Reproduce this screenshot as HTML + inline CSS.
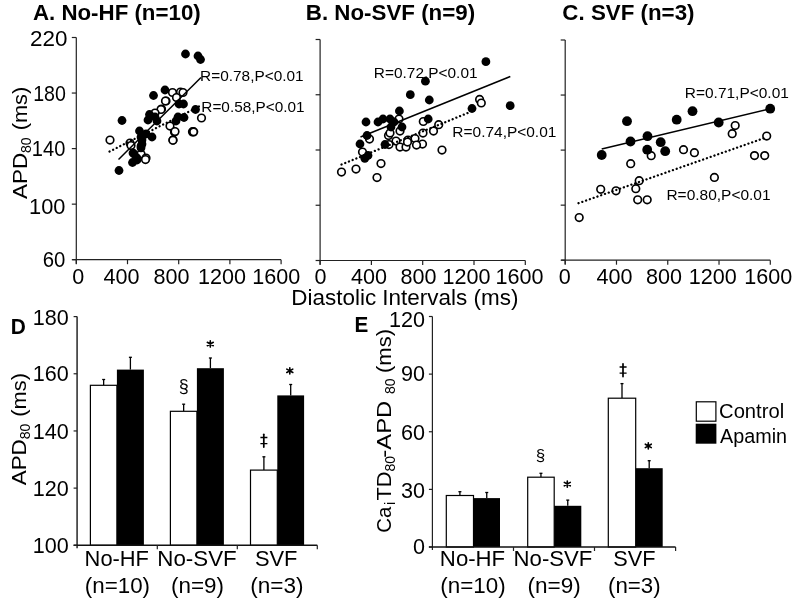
<!DOCTYPE html>
<html><head><meta charset="utf-8"><style>
html,body{margin:0;padding:0;background:#fff;}
body{width:800px;height:601px;overflow:hidden;}
svg{display:block;font-family:"Liberation Sans", sans-serif;fill:#000;will-change:transform;}
</style></head><body>
<svg width="800" height="601" viewBox="0 0 800 601">
<rect width="800" height="601" fill="#fff"/>
<text x="32.95" y="20.00" font-size="21.2" font-weight="bold" textLength="167.76" lengthAdjust="spacingAndGlyphs">A. No-HF (n=10)</text>
<text x="305.81" y="20.00" font-size="21.2" font-weight="bold" textLength="169.31" lengthAdjust="spacingAndGlyphs">B. No-SVF (n=9)</text>
<text x="562.38" y="20.00" font-size="21.2" font-weight="bold" textLength="132.13" lengthAdjust="spacingAndGlyphs">C. SVF (n=3)</text>
<line x1="76.30" y1="37.50" x2="76.30" y2="263.70" stroke="#222" stroke-width="1.2" />
<line x1="72.30" y1="259.70" x2="281.10" y2="259.70" stroke="#222" stroke-width="1.2" />
<line x1="71.80" y1="37.50" x2="76.30" y2="37.50" stroke="#222" stroke-width="1.2" />
<line x1="71.80" y1="93.05" x2="76.30" y2="93.05" stroke="#222" stroke-width="1.2" />
<line x1="71.80" y1="148.60" x2="76.30" y2="148.60" stroke="#222" stroke-width="1.2" />
<line x1="71.80" y1="204.15" x2="76.30" y2="204.15" stroke="#222" stroke-width="1.2" />
<line x1="71.80" y1="259.70" x2="76.30" y2="259.70" stroke="#222" stroke-width="1.2" />
<line x1="76.30" y1="259.70" x2="76.30" y2="264.20" stroke="#222" stroke-width="1.2" />
<line x1="127.50" y1="259.70" x2="127.50" y2="264.20" stroke="#222" stroke-width="1.2" />
<line x1="178.70" y1="259.70" x2="178.70" y2="264.20" stroke="#222" stroke-width="1.2" />
<line x1="229.90" y1="259.70" x2="229.90" y2="264.20" stroke="#222" stroke-width="1.2" />
<line x1="281.10" y1="259.70" x2="281.10" y2="264.20" stroke="#222" stroke-width="1.2" />
<line x1="320.10" y1="39.50" x2="320.10" y2="264.50" stroke="#222" stroke-width="1.2" />
<line x1="316.10" y1="260.50" x2="525.30" y2="260.50" stroke="#222" stroke-width="1.2" />
<line x1="315.60" y1="39.50" x2="320.10" y2="39.50" stroke="#222" stroke-width="1.2" />
<line x1="315.60" y1="94.75" x2="320.10" y2="94.75" stroke="#222" stroke-width="1.2" />
<line x1="315.60" y1="150.00" x2="320.10" y2="150.00" stroke="#222" stroke-width="1.2" />
<line x1="315.60" y1="205.25" x2="320.10" y2="205.25" stroke="#222" stroke-width="1.2" />
<line x1="315.60" y1="260.50" x2="320.10" y2="260.50" stroke="#222" stroke-width="1.2" />
<line x1="320.10" y1="260.50" x2="320.10" y2="265.00" stroke="#222" stroke-width="1.2" />
<line x1="371.40" y1="260.50" x2="371.40" y2="265.00" stroke="#222" stroke-width="1.2" />
<line x1="422.70" y1="260.50" x2="422.70" y2="265.00" stroke="#222" stroke-width="1.2" />
<line x1="474.00" y1="260.50" x2="474.00" y2="265.00" stroke="#222" stroke-width="1.2" />
<line x1="525.30" y1="260.50" x2="525.30" y2="265.00" stroke="#222" stroke-width="1.2" />
<line x1="565.20" y1="40.00" x2="565.20" y2="264.20" stroke="#222" stroke-width="1.2" />
<line x1="561.20" y1="260.20" x2="770.30" y2="260.20" stroke="#222" stroke-width="1.2" />
<line x1="560.70" y1="40.00" x2="565.20" y2="40.00" stroke="#222" stroke-width="1.2" />
<line x1="560.70" y1="95.05" x2="565.20" y2="95.05" stroke="#222" stroke-width="1.2" />
<line x1="560.70" y1="150.10" x2="565.20" y2="150.10" stroke="#222" stroke-width="1.2" />
<line x1="560.70" y1="205.15" x2="565.20" y2="205.15" stroke="#222" stroke-width="1.2" />
<line x1="560.70" y1="260.20" x2="565.20" y2="260.20" stroke="#222" stroke-width="1.2" />
<line x1="565.20" y1="260.20" x2="565.20" y2="264.70" stroke="#222" stroke-width="1.2" />
<line x1="616.48" y1="260.20" x2="616.48" y2="264.70" stroke="#222" stroke-width="1.2" />
<line x1="667.75" y1="260.20" x2="667.75" y2="264.70" stroke="#222" stroke-width="1.2" />
<line x1="719.02" y1="260.20" x2="719.02" y2="264.70" stroke="#222" stroke-width="1.2" />
<line x1="770.30" y1="260.20" x2="770.30" y2="264.70" stroke="#222" stroke-width="1.2" />
<text x="30.07" y="45.70" font-size="21.8" textLength="37.40" lengthAdjust="spacingAndGlyphs">220</text>
<text x="33.20" y="100.80" font-size="21.8" textLength="32.76" lengthAdjust="spacingAndGlyphs">180</text>
<text x="31.87" y="156.10" font-size="21.8" textLength="33.51" lengthAdjust="spacingAndGlyphs">140</text>
<text x="29.04" y="213.50" font-size="21.8" textLength="36.42" lengthAdjust="spacingAndGlyphs">100</text>
<text x="42.77" y="267.40" font-size="21.8" textLength="22.63" lengthAdjust="spacingAndGlyphs">60</text>
<text x="72.30" y="284.10" font-size="21.8" textLength="12.00" lengthAdjust="spacingAndGlyphs">0</text>
<text x="103.42" y="284.10" font-size="21.8" textLength="36.01" lengthAdjust="spacingAndGlyphs">400</text>
<text x="153.55" y="284.10" font-size="21.8" textLength="36.01" lengthAdjust="spacingAndGlyphs">800</text>
<text x="198.09" y="284.10" font-size="21.8" textLength="48.01" lengthAdjust="spacingAndGlyphs">1200</text>
<text x="252.29" y="284.10" font-size="21.8" textLength="48.01" lengthAdjust="spacingAndGlyphs">1600</text>
<text x="314.50" y="284.10" font-size="21.8" textLength="12.00" lengthAdjust="spacingAndGlyphs">0</text>
<text x="351.07" y="284.10" font-size="21.8" textLength="36.01" lengthAdjust="spacingAndGlyphs">400</text>
<text x="400.45" y="284.10" font-size="21.8" textLength="36.01" lengthAdjust="spacingAndGlyphs">800</text>
<text x="442.49" y="284.10" font-size="21.8" textLength="48.01" lengthAdjust="spacingAndGlyphs">1200</text>
<text x="495.59" y="284.10" font-size="21.8" textLength="48.01" lengthAdjust="spacingAndGlyphs">1600</text>
<text x="558.80" y="284.10" font-size="21.8" textLength="12.00" lengthAdjust="spacingAndGlyphs">0</text>
<text x="596.57" y="284.10" font-size="21.8" textLength="36.01" lengthAdjust="spacingAndGlyphs">400</text>
<text x="645.95" y="284.10" font-size="21.8" textLength="36.01" lengthAdjust="spacingAndGlyphs">800</text>
<text x="688.69" y="284.10" font-size="21.8" textLength="48.01" lengthAdjust="spacingAndGlyphs">1200</text>
<text x="744.34" y="284.10" font-size="21.8" textLength="48.01" lengthAdjust="spacingAndGlyphs">1600</text>
<text x="291.26" y="304.50" font-size="21.3" textLength="227.14" lengthAdjust="spacingAndGlyphs">Diastolic Intervals (ms)</text>
<g transform="translate(27.2,600) rotate(-90)"><text x="400.96" y="0.00" font-size="20.8" textLength="46.19" lengthAdjust="spacingAndGlyphs">APD</text><text x="447.09" y="4.00" font-size="14" textLength="15.57" lengthAdjust="spacingAndGlyphs">80</text><text x="469.65" y="0.00" font-size="20.8" textLength="43.66" lengthAdjust="spacingAndGlyphs">(ms)</text></g>
<circle cx="110" cy="140" r="3.8" fill="#fff" stroke="#000" stroke-width="1.65"/>
<circle cx="130" cy="143" r="3.8" fill="#fff" stroke="#000" stroke-width="1.65"/>
<circle cx="131" cy="145.5" r="3.8" fill="#fff" stroke="#000" stroke-width="1.65"/>
<circle cx="141" cy="154" r="3.8" fill="#fff" stroke="#000" stroke-width="1.65"/>
<circle cx="146" cy="158" r="3.8" fill="#fff" stroke="#000" stroke-width="1.65"/>
<circle cx="145.5" cy="159.5" r="3.8" fill="#fff" stroke="#000" stroke-width="1.65"/>
<circle cx="161.5" cy="109" r="3.8" fill="#fff" stroke="#000" stroke-width="1.65"/>
<circle cx="166" cy="101" r="3.8" fill="#fff" stroke="#000" stroke-width="1.65"/>
<circle cx="173" cy="140" r="3.8" fill="#fff" stroke="#000" stroke-width="1.65"/>
<circle cx="174.5" cy="132" r="3.8" fill="#fff" stroke="#000" stroke-width="1.65"/>
<circle cx="172.5" cy="92.5" r="3.8" fill="#fff" stroke="#000" stroke-width="1.65"/>
<circle cx="180.5" cy="92" r="3.8" fill="#fff" stroke="#000" stroke-width="1.65"/>
<circle cx="183" cy="92.5" r="3.8" fill="#fff" stroke="#000" stroke-width="1.65"/>
<circle cx="165.5" cy="101" r="3.8" fill="#fff" stroke="#000" stroke-width="1.65"/>
<circle cx="176.5" cy="97.5" r="3.8" fill="#fff" stroke="#000" stroke-width="1.65"/>
<circle cx="201.5" cy="118" r="3.8" fill="#fff" stroke="#000" stroke-width="1.65"/>
<circle cx="161" cy="109.5" r="3.8" fill="#fff" stroke="#000" stroke-width="1.65"/>
<circle cx="155" cy="113" r="3.8" fill="#fff" stroke="#000" stroke-width="1.65"/>
<circle cx="170" cy="126" r="3.8" fill="#fff" stroke="#000" stroke-width="1.65"/>
<circle cx="175" cy="131.5" r="3.8" fill="#fff" stroke="#000" stroke-width="1.65"/>
<circle cx="172.9" cy="140.2" r="3.8" fill="#fff" stroke="#000" stroke-width="1.65"/>
<circle cx="192.6" cy="131.8" r="3.8" fill="#fff" stroke="#000" stroke-width="1.9"/>
<circle cx="193.6" cy="131.8" r="3.8" fill="#fff" stroke="#000" stroke-width="1.9"/>
<circle cx="185.5" cy="54" r="4.4" fill="#000"/>
<circle cx="198" cy="56" r="4.4" fill="#000"/>
<circle cx="200.5" cy="59.5" r="4.4" fill="#000"/>
<circle cx="165" cy="90" r="4.4" fill="#000"/>
<circle cx="153.5" cy="95.5" r="4.4" fill="#000"/>
<circle cx="179" cy="104" r="4.4" fill="#000"/>
<circle cx="183.5" cy="104" r="4.4" fill="#000"/>
<circle cx="195.5" cy="109.5" r="4.4" fill="#000"/>
<circle cx="149.5" cy="114.5" r="4.4" fill="#000"/>
<circle cx="148" cy="120" r="4.4" fill="#000"/>
<circle cx="155" cy="117" r="4.4" fill="#000"/>
<circle cx="157" cy="121" r="4.4" fill="#000"/>
<circle cx="178" cy="117" r="4.4" fill="#000"/>
<circle cx="184" cy="117.5" r="4.4" fill="#000"/>
<circle cx="176" cy="121" r="4.4" fill="#000"/>
<circle cx="122" cy="120.5" r="4.4" fill="#000"/>
<circle cx="139.5" cy="131" r="4.4" fill="#000"/>
<circle cx="146" cy="134" r="4.4" fill="#000"/>
<circle cx="152" cy="137" r="4.4" fill="#000"/>
<circle cx="142" cy="140" r="4.4" fill="#000"/>
<circle cx="141" cy="146" r="4.4" fill="#000"/>
<circle cx="142" cy="144" r="4.4" fill="#000"/>
<circle cx="133" cy="153" r="4.4" fill="#000"/>
<circle cx="137" cy="158" r="4.4" fill="#000"/>
<circle cx="134" cy="154" r="4.4" fill="#000"/>
<circle cx="132.5" cy="162.5" r="4.4" fill="#000"/>
<circle cx="137" cy="160" r="4.4" fill="#000"/>
<circle cx="119" cy="170.5" r="4.4" fill="#000"/>
<circle cx="141" cy="137" r="4.4" fill="#000"/>
<circle cx="141" cy="147.8" r="4.4" fill="#000"/>
<circle cx="479.6" cy="99.4" r="3.8" fill="#fff" stroke="#000" stroke-width="1.65"/>
<circle cx="481.3" cy="103.0" r="3.8" fill="#fff" stroke="#000" stroke-width="1.65"/>
<circle cx="423.3" cy="121.5" r="3.8" fill="#fff" stroke="#000" stroke-width="1.65"/>
<circle cx="438.7" cy="124.7" r="3.8" fill="#fff" stroke="#000" stroke-width="1.65"/>
<circle cx="399" cy="119" r="3.8" fill="#fff" stroke="#000" stroke-width="1.65"/>
<circle cx="400" cy="131" r="3.8" fill="#fff" stroke="#000" stroke-width="1.65"/>
<circle cx="388.5" cy="135.5" r="3.8" fill="#fff" stroke="#000" stroke-width="1.65"/>
<circle cx="390" cy="133" r="3.8" fill="#fff" stroke="#000" stroke-width="1.65"/>
<circle cx="369.5" cy="139" r="3.8" fill="#fff" stroke="#000" stroke-width="1.65"/>
<circle cx="389" cy="144.5" r="3.8" fill="#fff" stroke="#000" stroke-width="1.65"/>
<circle cx="396" cy="141" r="3.8" fill="#fff" stroke="#000" stroke-width="1.65"/>
<circle cx="400" cy="147" r="3.8" fill="#fff" stroke="#000" stroke-width="1.65"/>
<circle cx="406" cy="147" r="3.8" fill="#fff" stroke="#000" stroke-width="1.65"/>
<circle cx="408" cy="140" r="3.8" fill="#fff" stroke="#000" stroke-width="1.65"/>
<circle cx="362.5" cy="152" r="3.8" fill="#fff" stroke="#000" stroke-width="1.65"/>
<circle cx="341.5" cy="172" r="3.8" fill="#fff" stroke="#000" stroke-width="1.65"/>
<circle cx="356" cy="169" r="3.8" fill="#fff" stroke="#000" stroke-width="1.65"/>
<circle cx="381" cy="163.5" r="3.8" fill="#fff" stroke="#000" stroke-width="1.65"/>
<circle cx="377" cy="177.5" r="3.8" fill="#fff" stroke="#000" stroke-width="1.65"/>
<circle cx="433.5" cy="131" r="3.8" fill="#fff" stroke="#000" stroke-width="1.65"/>
<circle cx="423" cy="133" r="3.8" fill="#fff" stroke="#000" stroke-width="1.65"/>
<circle cx="422.5" cy="144" r="3.8" fill="#fff" stroke="#000" stroke-width="1.65"/>
<circle cx="415" cy="138.5" r="3.8" fill="#fff" stroke="#000" stroke-width="1.65"/>
<circle cx="416.5" cy="145" r="3.8" fill="#fff" stroke="#000" stroke-width="1.65"/>
<circle cx="407.5" cy="142" r="3.8" fill="#fff" stroke="#000" stroke-width="1.65"/>
<circle cx="442" cy="150" r="3.8" fill="#fff" stroke="#000" stroke-width="1.65"/>
<circle cx="485.9" cy="61.7" r="4.4" fill="#000"/>
<circle cx="425.4" cy="81.2" r="4.4" fill="#000"/>
<circle cx="410.3" cy="94.7" r="4.4" fill="#000"/>
<circle cx="429.3" cy="100" r="4.4" fill="#000"/>
<circle cx="472" cy="108.5" r="4.4" fill="#000"/>
<circle cx="510.2" cy="105.7" r="4.4" fill="#000"/>
<circle cx="399.4" cy="111" r="4.4" fill="#000"/>
<circle cx="428.2" cy="119" r="4.4" fill="#000"/>
<circle cx="366" cy="122" r="4.4" fill="#000"/>
<circle cx="378" cy="122" r="4.4" fill="#000"/>
<circle cx="383" cy="119" r="4.4" fill="#000"/>
<circle cx="390" cy="119" r="4.4" fill="#000"/>
<circle cx="394" cy="122" r="4.4" fill="#000"/>
<circle cx="391" cy="127" r="4.4" fill="#000"/>
<circle cx="402" cy="127" r="4.4" fill="#000"/>
<circle cx="367" cy="135.5" r="4.4" fill="#000"/>
<circle cx="360" cy="144" r="4.4" fill="#000"/>
<circle cx="385" cy="144.5" r="4.4" fill="#000"/>
<circle cx="364.8" cy="158.3" r="4.4" fill="#000"/>
<circle cx="368" cy="155.5" r="4.4" fill="#000"/>
<circle cx="651.2" cy="155.7" r="3.8" fill="#fff" stroke="#000" stroke-width="1.65"/>
<circle cx="630.7" cy="163.7" r="3.8" fill="#fff" stroke="#000" stroke-width="1.65"/>
<circle cx="683.5" cy="149.7" r="3.8" fill="#fff" stroke="#000" stroke-width="1.65"/>
<circle cx="694.4" cy="152.7" r="3.8" fill="#fff" stroke="#000" stroke-width="1.65"/>
<circle cx="735.2" cy="125.5" r="3.8" fill="#fff" stroke="#000" stroke-width="1.65"/>
<circle cx="732.2" cy="133.7" r="3.8" fill="#fff" stroke="#000" stroke-width="1.65"/>
<circle cx="766.7" cy="136" r="3.8" fill="#fff" stroke="#000" stroke-width="1.65"/>
<circle cx="754.5" cy="155.6" r="3.8" fill="#fff" stroke="#000" stroke-width="1.65"/>
<circle cx="764.7" cy="155.6" r="3.8" fill="#fff" stroke="#000" stroke-width="1.65"/>
<circle cx="714.4" cy="177.4" r="3.8" fill="#fff" stroke="#000" stroke-width="1.65"/>
<circle cx="579.2" cy="217.5" r="3.8" fill="#fff" stroke="#000" stroke-width="1.65"/>
<circle cx="600.7" cy="189.3" r="3.8" fill="#fff" stroke="#000" stroke-width="1.65"/>
<circle cx="616" cy="190.8" r="3.8" fill="#fff" stroke="#000" stroke-width="1.65"/>
<circle cx="639.2" cy="180.7" r="3.8" fill="#fff" stroke="#000" stroke-width="1.65"/>
<circle cx="635.8" cy="188.7" r="3.8" fill="#fff" stroke="#000" stroke-width="1.65"/>
<circle cx="637.7" cy="199.8" r="3.8" fill="#fff" stroke="#000" stroke-width="1.65"/>
<circle cx="647.2" cy="199.8" r="3.8" fill="#fff" stroke="#000" stroke-width="1.65"/>
<circle cx="601.7" cy="155" r="4.9" fill="#000"/>
<circle cx="627" cy="121.2" r="4.9" fill="#000"/>
<circle cx="630.5" cy="141.5" r="4.9" fill="#000"/>
<circle cx="647.5" cy="136.2" r="4.9" fill="#000"/>
<circle cx="647.2" cy="149.7" r="4.9" fill="#000"/>
<circle cx="660.7" cy="142.2" r="4.9" fill="#000"/>
<circle cx="665.2" cy="151.2" r="4.9" fill="#000"/>
<circle cx="676.7" cy="119.7" r="4.9" fill="#000"/>
<circle cx="692.5" cy="111.2" r="4.9" fill="#000"/>
<circle cx="718.7" cy="122.5" r="4.9" fill="#000"/>
<circle cx="770.2" cy="108.7" r="4.9" fill="#000"/>
<line x1="118.50" y1="159.50" x2="201.00" y2="77.50" stroke="#000" stroke-width="1.5" />
<line x1="109.50" y1="151.50" x2="200.00" y2="106.00" stroke="#000" stroke-width="2.3" stroke-dasharray="0.1 3.9" stroke-linecap="round"/>
<line x1="360.50" y1="137.00" x2="510.30" y2="76.50" stroke="#000" stroke-width="1.5" />
<line x1="341.50" y1="164.50" x2="471.00" y2="111.70" stroke="#000" stroke-width="2.3" stroke-dasharray="0.1 3.9" stroke-linecap="round"/>
<line x1="601.70" y1="149.00" x2="770.20" y2="108.70" stroke="#000" stroke-width="1.5" />
<line x1="578.50" y1="203.20" x2="766.00" y2="137.50" stroke="#000" stroke-width="2.3" stroke-dasharray="0.1 3.9" stroke-linecap="round"/>
<text x="200.14" y="80.70" font-size="15.2" textLength="103.51" lengthAdjust="spacingAndGlyphs">R=0.78,P&lt;0.01</text>
<text x="201.34" y="112.20" font-size="15.2" textLength="103.21" lengthAdjust="spacingAndGlyphs">R=0.58,P&lt;0.01</text>
<text x="373.89" y="78.00" font-size="15.2" textLength="103.67" lengthAdjust="spacingAndGlyphs">R=0.72,P&lt;0.01</text>
<text x="452.38" y="136.75" font-size="15.2" textLength="103.97" lengthAdjust="spacingAndGlyphs">R=0.74,P&lt;0.01</text>
<text x="684.83" y="98.00" font-size="15.2" textLength="104.02" lengthAdjust="spacingAndGlyphs">R=0.71,P&lt;0.01</text>
<text x="666.43" y="199.50" font-size="15.2" textLength="104.13" lengthAdjust="spacingAndGlyphs">R=0.80,P&lt;0.01</text>
<text x="10.70" y="333.80" font-size="21.6" font-weight="bold" textLength="15.07" lengthAdjust="spacingAndGlyphs">D</text>
<line x1="103.65" y1="385.30" x2="103.65" y2="379.50" stroke="#000" stroke-width="1.3" />
<line x1="102.15" y1="379.50" x2="105.15" y2="379.50" stroke="#000" stroke-width="1.3" />
<rect x="90.4" y="385.3" width="26.50" height="160.00" fill="#fff" stroke="#000" stroke-width="1.2"/>
<line x1="130.40" y1="369.60" x2="130.40" y2="357.30" stroke="#000" stroke-width="1.3" />
<line x1="128.90" y1="357.30" x2="131.90" y2="357.30" stroke="#000" stroke-width="1.3" />
<rect x="116.9" y="369.6" width="27.00" height="175.70" fill="#000"/>
<line x1="183.65" y1="411.30" x2="183.65" y2="404.20" stroke="#000" stroke-width="1.3" />
<line x1="182.15" y1="404.20" x2="185.15" y2="404.20" stroke="#000" stroke-width="1.3" />
<rect x="170.4" y="411.3" width="26.50" height="134.00" fill="#fff" stroke="#000" stroke-width="1.2"/>
<line x1="210.40" y1="368.20" x2="210.40" y2="358.00" stroke="#000" stroke-width="1.3" />
<line x1="208.90" y1="358.00" x2="211.90" y2="358.00" stroke="#000" stroke-width="1.3" />
<rect x="196.9" y="368.2" width="27.00" height="177.10" fill="#000"/>
<line x1="263.90" y1="470.10" x2="263.90" y2="456.80" stroke="#000" stroke-width="1.3" />
<line x1="262.40" y1="456.80" x2="265.40" y2="456.80" stroke="#000" stroke-width="1.3" />
<rect x="250.5" y="470.1" width="26.80" height="75.20" fill="#fff" stroke="#000" stroke-width="1.2"/>
<line x1="290.70" y1="395.40" x2="290.70" y2="384.50" stroke="#000" stroke-width="1.3" />
<line x1="289.20" y1="384.50" x2="292.20" y2="384.50" stroke="#000" stroke-width="1.3" />
<rect x="277.3" y="395.4" width="26.80" height="149.90" fill="#000"/>
<line x1="77.10" y1="316.60" x2="77.10" y2="548.30" stroke="#4a4a4a" stroke-width="1.8" />
<line x1="73.60" y1="545.30" x2="317.30" y2="545.30" stroke="#111" stroke-width="1.4" />
<line x1="73.60" y1="316.60" x2="77.10" y2="316.60" stroke="#222" stroke-width="1.2" />
<line x1="73.60" y1="373.77" x2="77.10" y2="373.77" stroke="#222" stroke-width="1.2" />
<line x1="73.60" y1="430.95" x2="77.10" y2="430.95" stroke="#222" stroke-width="1.2" />
<line x1="73.60" y1="488.12" x2="77.10" y2="488.12" stroke="#222" stroke-width="1.2" />
<line x1="73.60" y1="545.30" x2="77.10" y2="545.30" stroke="#222" stroke-width="1.2" />
<line x1="157.30" y1="545.30" x2="157.30" y2="549.30" stroke="#222" stroke-width="1.2" />
<line x1="237.30" y1="545.30" x2="237.30" y2="549.30" stroke="#222" stroke-width="1.2" />
<line x1="317.30" y1="545.30" x2="317.30" y2="549.30" stroke="#222" stroke-width="1.2" />
<text x="32.73" y="325.10" font-size="21.8" textLength="36.01" lengthAdjust="spacingAndGlyphs">180</text>
<text x="32.73" y="380.80" font-size="21.8" textLength="36.01" lengthAdjust="spacingAndGlyphs">160</text>
<text x="32.73" y="438.80" font-size="21.8" textLength="36.01" lengthAdjust="spacingAndGlyphs">140</text>
<text x="32.73" y="496.20" font-size="21.8" textLength="36.01" lengthAdjust="spacingAndGlyphs">120</text>
<text x="32.73" y="552.80" font-size="21.8" textLength="36.01" lengthAdjust="spacingAndGlyphs">100</text>
<g transform="translate(25.6,600) rotate(-90)"><text x="114.66" y="0.00" font-size="20.8" textLength="46.19" lengthAdjust="spacingAndGlyphs">APD</text><text x="160.79" y="4.00" font-size="14" textLength="15.57" lengthAdjust="spacingAndGlyphs">80</text><text x="183.35" y="0.00" font-size="20.8" textLength="43.66" lengthAdjust="spacingAndGlyphs">(ms)</text></g>
<text x="84.61" y="566.00" font-size="21.3" textLength="64.37" lengthAdjust="spacingAndGlyphs">No-HF</text>
<text x="84.82" y="592.70" font-size="21.3" textLength="65.17" lengthAdjust="spacingAndGlyphs">(n=10)</text>
<text x="157.32" y="565.50" font-size="21.3" textLength="79.43" lengthAdjust="spacingAndGlyphs">No-SVF</text>
<text x="171.01" y="592.70" font-size="21.3" textLength="52.98" lengthAdjust="spacingAndGlyphs">(n=9)</text>
<text x="254.91" y="565.50" font-size="21.3" textLength="42.57" lengthAdjust="spacingAndGlyphs">SVF</text>
<text x="250.25" y="592.70" font-size="21.3" textLength="53.25" lengthAdjust="spacingAndGlyphs">(n=3)</text>
<text x="178.69" y="392.00" font-size="18" textLength="10.01" lengthAdjust="spacingAndGlyphs">§</text>
<path d="M210.30,340.90V347.10M207.30,342.30L213.30,345.70M207.30,345.70L213.30,342.30" stroke="#000" stroke-width="1.6" stroke-linecap="round" fill="none"/>
<path d="M263.80,434.30V447.10" stroke="#000" stroke-width="1.7" stroke-linecap="round" fill="none"/>
<path d="M260.40,437.50H267.40M260.40,443.60H267.40" stroke="#000" stroke-width="1.4" fill="none"/>
<path d="M289.80,367.70V373.90M286.80,369.10L292.80,372.50M286.80,372.50L292.80,369.10" stroke="#000" stroke-width="1.6" stroke-linecap="round" fill="none"/>
<text x="354.62" y="331.50" font-size="21.6" font-weight="bold" textLength="13.79" lengthAdjust="spacingAndGlyphs">E</text>
<line x1="459.90" y1="495.50" x2="459.90" y2="491.70" stroke="#000" stroke-width="1.3" />
<line x1="458.40" y1="491.70" x2="461.40" y2="491.70" stroke="#000" stroke-width="1.3" />
<rect x="446.3" y="495.5" width="27.20" height="51.50" fill="#fff" stroke="#000" stroke-width="1.2"/>
<line x1="486.75" y1="498.10" x2="486.75" y2="492.50" stroke="#000" stroke-width="1.3" />
<line x1="485.25" y1="492.50" x2="488.25" y2="492.50" stroke="#000" stroke-width="1.3" />
<rect x="473.5" y="498.1" width="26.50" height="48.90" fill="#000"/>
<line x1="540.95" y1="477.20" x2="540.95" y2="473.30" stroke="#000" stroke-width="1.3" />
<line x1="539.45" y1="473.30" x2="542.45" y2="473.30" stroke="#000" stroke-width="1.3" />
<rect x="527.7" y="477.2" width="26.50" height="69.80" fill="#fff" stroke="#000" stroke-width="1.2"/>
<line x1="567.75" y1="505.80" x2="567.75" y2="500.10" stroke="#000" stroke-width="1.3" />
<line x1="566.25" y1="500.10" x2="569.25" y2="500.10" stroke="#000" stroke-width="1.3" />
<rect x="554.2" y="505.8" width="27.10" height="41.20" fill="#000"/>
<line x1="622.00" y1="398.20" x2="622.00" y2="383.60" stroke="#000" stroke-width="1.3" />
<line x1="620.50" y1="383.60" x2="623.50" y2="383.60" stroke="#000" stroke-width="1.3" />
<rect x="608.3" y="398.2" width="27.40" height="148.80" fill="#fff" stroke="#000" stroke-width="1.2"/>
<line x1="649.20" y1="468.20" x2="649.20" y2="460.70" stroke="#000" stroke-width="1.3" />
<line x1="647.70" y1="460.70" x2="650.70" y2="460.70" stroke="#000" stroke-width="1.3" />
<rect x="635.7" y="468.2" width="27.00" height="78.80" fill="#000"/>
<line x1="432.40" y1="316.50" x2="432.40" y2="550.00" stroke="#222" stroke-width="1.2" />
<line x1="428.90" y1="547.00" x2="675.60" y2="547.00" stroke="#111" stroke-width="1.4" />
<line x1="428.90" y1="316.50" x2="432.40" y2="316.50" stroke="#222" stroke-width="1.2" />
<line x1="428.90" y1="374.12" x2="432.40" y2="374.12" stroke="#222" stroke-width="1.2" />
<line x1="428.90" y1="431.75" x2="432.40" y2="431.75" stroke="#222" stroke-width="1.2" />
<line x1="428.90" y1="489.38" x2="432.40" y2="489.38" stroke="#222" stroke-width="1.2" />
<line x1="428.90" y1="547.00" x2="432.40" y2="547.00" stroke="#222" stroke-width="1.2" />
<line x1="513.50" y1="547.00" x2="513.50" y2="551.00" stroke="#222" stroke-width="1.2" />
<line x1="594.50" y1="547.00" x2="594.50" y2="551.00" stroke="#222" stroke-width="1.2" />
<line x1="675.60" y1="547.00" x2="675.60" y2="551.00" stroke="#222" stroke-width="1.2" />
<text x="389.03" y="327.00" font-size="21.8" textLength="36.01" lengthAdjust="spacingAndGlyphs">120</text>
<text x="401.04" y="381.20" font-size="21.8" textLength="24.01" lengthAdjust="spacingAndGlyphs">90</text>
<text x="401.04" y="439.50" font-size="21.8" textLength="24.01" lengthAdjust="spacingAndGlyphs">60</text>
<text x="401.04" y="498.30" font-size="21.8" textLength="24.01" lengthAdjust="spacingAndGlyphs">30</text>
<text x="413.04" y="554.40" font-size="21.8" textLength="12.00" lengthAdjust="spacingAndGlyphs">0</text>
<g transform="translate(391.0,600) rotate(-90)"><text x="67.26" y="0.00" font-size="20.4" textLength="26.08" lengthAdjust="spacingAndGlyphs">Ca</text><text x="95.06" y="4.00" font-size="14" textLength="3.11" lengthAdjust="spacingAndGlyphs">i</text><text x="99.51" y="0.00" font-size="20.4" textLength="29.10" lengthAdjust="spacingAndGlyphs">TD</text><text x="128.59" y="4.00" font-size="14" textLength="15.57" lengthAdjust="spacingAndGlyphs">80</text><text x="142.34" y="0.00" font-size="20.4" textLength="57.02" lengthAdjust="spacingAndGlyphs">-APD</text><text x="206.09" y="4.00" font-size="14" textLength="15.57" lengthAdjust="spacingAndGlyphs">80</text><text x="227.03" y="0.00" font-size="20.4" textLength="44.04" lengthAdjust="spacingAndGlyphs">(ms)</text></g>
<text x="439.88" y="566.00" font-size="21.3" textLength="65.31" lengthAdjust="spacingAndGlyphs">No-HF</text>
<text x="440.31" y="592.70" font-size="21.3" textLength="65.38" lengthAdjust="spacingAndGlyphs">(n=10)</text>
<text x="513.58" y="565.50" font-size="21.3" textLength="78.81" lengthAdjust="spacingAndGlyphs">No-SVF</text>
<text x="527.60" y="592.70" font-size="21.3" textLength="53.19" lengthAdjust="spacingAndGlyphs">(n=9)</text>
<text x="613.31" y="565.50" font-size="21.3" textLength="42.26" lengthAdjust="spacingAndGlyphs">SVF</text>
<text x="608.02" y="592.70" font-size="21.3" textLength="52.56" lengthAdjust="spacingAndGlyphs">(n=3)</text>
<text x="535.67" y="461.00" font-size="17" textLength="9.45" lengthAdjust="spacingAndGlyphs">§</text>
<path d="M567.30,481.00V487.20M564.30,482.40L570.30,485.80M564.30,485.80L570.30,482.40" stroke="#000" stroke-width="1.6" stroke-linecap="round" fill="none"/>
<path d="M623.00,363.80V376.60" stroke="#000" stroke-width="1.7" stroke-linecap="round" fill="none"/>
<path d="M619.60,367.00H626.60M619.60,373.10H626.60" stroke="#000" stroke-width="1.4" fill="none"/>
<path d="M648.30,442.80V449.00M645.30,444.20L651.30,447.60M645.30,447.60L651.30,444.20" stroke="#000" stroke-width="1.6" stroke-linecap="round" fill="none"/>
<rect x="696.3" y="401.8" width="19.6" height="19.4" fill="#fff" stroke="#000" stroke-width="1.2"/>
<rect x="695.7" y="423.7" width="20.7" height="20" fill="#000"/>
<text x="719.07" y="418.30" font-size="19.6" textLength="65.08" lengthAdjust="spacingAndGlyphs">Control</text>
<text x="720.06" y="442.90" font-size="19.6" textLength="67.02" lengthAdjust="spacingAndGlyphs">Apamin</text>
</svg>
</body></html>
